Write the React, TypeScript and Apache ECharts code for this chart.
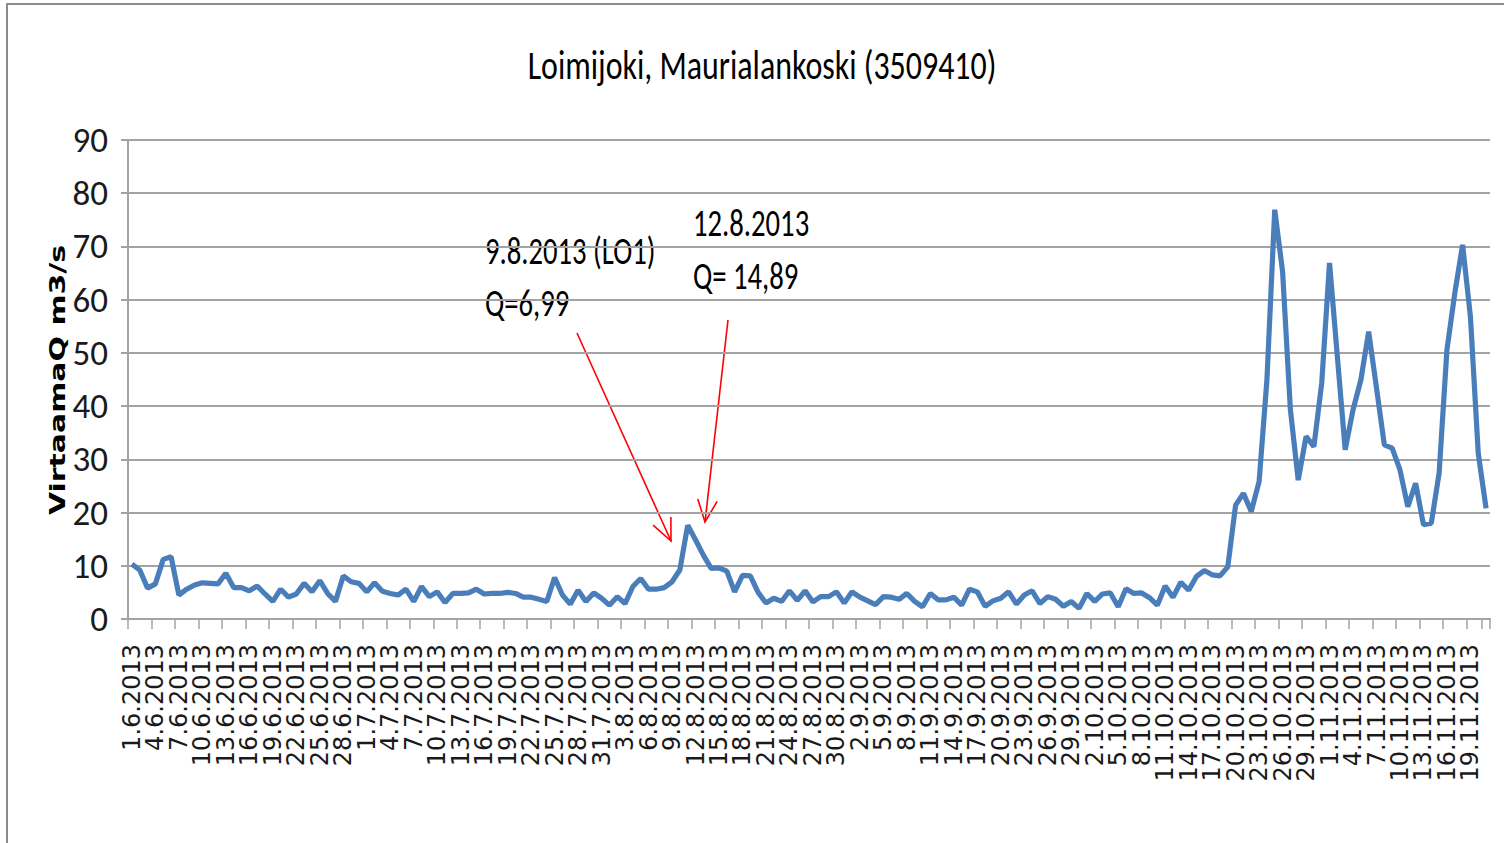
import React, { useEffect, useRef } from "react";
import * as echarts from "echarts";

const TITLE = "Loimijoki, Maurialankoski (3509410)";
const Y_NAME = "VirtaamaQ m3/s";

// Daily categories 1.6.2013 – 21.11.2013
const FIRST_DAY = [2013, 6, 1];
const DAY_COUNT = 174;
const categories: string[] = (() => {
  const out: string[] = [];
  const dt = new Date(Date.UTC(FIRST_DAY[0], FIRST_DAY[1] - 1, FIRST_DAY[2]));
  for (let i = 0; i < DAY_COUNT; i++) {
    out.push(`${dt.getUTCDate()}.${dt.getUTCMonth() + 1}.${dt.getUTCFullYear()}`);
    dt.setUTCDate(dt.getUTCDate() + 1);
  }
  return out;
})();
// Every third day is labelled on the axis
const LABEL_EVERY = 3;

// Discharge (m3/s)
const flow: number[] = [
  10.3, 9.2, 5.8, 6.6, 11.2, 11.7, 4.5, 5.6, 6.4, 6.8,
  6.7, 6.6, 8.6, 5.9, 5.9, 5.3, 6.2, 4.7, 3.3, 5.6,
  4.1, 4.7, 6.7, 5.1, 7.2, 4.8, 3.3, 8.1, 7.0, 6.7,
  5.1, 6.8, 5.2, 4.8, 4.5, 5.6, 3.3, 6.1, 4.2, 5.1,
  3.1, 4.8, 4.8, 4.9, 5.6, 4.7, 4.8, 4.8, 5.0, 4.8,
  4.1, 4.1, 3.7, 3.3, 7.8, 4.5, 2.8, 5.4, 3.3, 4.9,
  3.9, 2.6, 4.2, 2.9, 6.1, 7.6, 5.6, 5.6, 5.9, 6.99,
  9.2, 17.6, 14.89, 12.0, 9.5, 9.6, 9.0, 5.1, 8.2, 8.1,
  5.0, 3.0, 3.9, 3.3, 5.3, 3.5, 5.3, 3.2, 4.2, 4.2,
  5.1, 3.0, 5.1, 4.1, 3.4, 2.7, 4.2, 4.1, 3.7, 4.8,
  3.3, 2.3, 4.8, 3.6, 3.6, 4.1, 2.6, 5.6, 5.1, 2.4,
  3.4, 3.9, 5.1, 2.8, 4.5, 5.3, 2.9, 4.2, 3.7, 2.4,
  3.3, 2.0, 4.8, 3.3, 4.7, 4.9, 2.3, 5.7, 4.8, 4.9,
  4.0, 2.6, 6.2, 4.1, 6.9, 5.4, 8.0, 9.1, 8.3, 8.1,
  9.8, 21.4, 23.6, 20.2, 25.8, 44.9, 76.9, 65.3, 39.3, 26.1,
  34.3, 32.4, 44.3, 66.9, 49.3, 31.8, 39.3, 44.9, 54.0, 43.4,
  32.7, 32.1, 28.0, 21.1, 25.5, 17.7, 18.0, 27.4, 50.6, 61.2,
  70.3, 56.8, 31.1, 20.8,
];

const Y_MIN = 0;
const Y_MAX = 90;
const Y_STEP = 10;

const noteLeft = ["9.8.2013 (LO1)", "Q=6,99"];
const noteRight = ["12.8.2013", "Q= 14,89"];

const CALIBRI = "Carlito, Calibri, 'Liberation Sans', sans-serif";

function arrow(x1: number, y1: number, x2: number, y2: number): any[] {
  const dx = x2 - x1;
  const dy = y2 - y1;
  const len = Math.hypot(dx, dy);
  const ux = dx / len;
  const uy = dy / len;
  const head = 24;
  const ang = (24 * Math.PI) / 180;
  const rot = (a: number) => [
    -ux * Math.cos(a) + uy * Math.sin(a),
    -uy * Math.cos(a) - ux * Math.sin(a),
  ];
  const w1 = rot(ang);
  const w2 = rot(-ang);
  const st = { stroke: "#ff0000", lineWidth: 1.6, fill: "none" };
  return [
    { type: "line", shape: { x1, y1, x2, y2 }, style: st, silent: true },
    {
      type: "polyline",
      shape: {
        points: [
          [x2 + w1[0] * head, y2 + w1[1] * head],
          [x2, y2],
          [x2 + w2[0] * head, y2 + w2[1] * head],
        ],
      },
      style: st,
      silent: true,
    },
  ];
}

export default function App() {
  const ref = useRef<HTMLDivElement>(null);
  useEffect(() => {
    if (!ref.current) return;
    const chart = echarts.init(ref.current, undefined, { renderer: "svg" });
    const option: any = {
      animation: false,
      backgroundColor: "#ffffff",
      grid: { left: 128, right: 14, top: 140, bottom: 224, containLabel: false },
      xAxis: {
        type: "category",
        data: categories,
        boundaryGap: true,
        axisLine: { show: true, lineStyle: { color: "#a3a3a3", width: 2 } },
        axisTick: { show: true, interval: LABEL_EVERY - 1, length: 10, lineStyle: { color: "#a3a3a3", width: 1.5 } },
        axisLabel: {
          interval: 0,
          formatter: (value: string, index: number) => (index % LABEL_EVERY === 0 ? value : ""),
          rotate: 90,
          margin: 25,
          fontSize: 24,
          fontFamily: "'DejaVu Sans', Verdana, sans-serif",
          color: "#1a1a1a",
        },
        splitLine: { show: false },
      },
      yAxis: {
        type: "value",
        min: Y_MIN,
        max: Y_MAX,
        interval: Y_STEP,
        axisLine: { show: true, lineStyle: { color: "#a3a3a3", width: 2 } },
        axisTick: { show: true, length: 7, lineStyle: { color: "#a3a3a3", width: 2 } },
        axisLabel: {
          margin: 20,
          fontSize: 35,
          fontFamily: CALIBRI,
          color: "#1a1a1a",
        },
        splitLine: { show: true, lineStyle: { color: "#a3a3a3", width: 2 } },
      },
      series: [
        {
          type: "line",
          data: flow,
          symbol: "none",
          smooth: false,
          lineStyle: { color: "#4a7ebb", width: 5.2 },
          itemStyle: { color: "#4a7ebb" },
        },
      ],
      graphic: [
        {
          type: "rect",
          shape: { x: 7, y: 4, width: 1700, height: 1000 },
          style: { fill: "none", stroke: "#8c8c8c", lineWidth: 2 },
          silent: true,
          z: 100,
        },
        {
          type: "text",
          x: 762,
          y: 64,
          scaleX: 0.76,
          style: {
            text: TITLE,
            fontSize: 42,
            fontFamily: CALIBRI,
            fill: "#000",
            align: "center",
            verticalAlign: "middle",
            textAlign: "center",
            textVerticalAlign: "middle",
          },
        },
        {
          type: "text",
          x: 57,
          y: 380,
          rotation: Math.PI / 2,
          scaleX: 1.36,
          style: {
            text: Y_NAME,
            fontSize: 22,
            fontWeight: "bold",
            fontFamily: "'DejaVu Sans', Verdana, sans-serif",
            fill: "#000",
            align: "center",
            verticalAlign: "middle",
            textAlign: "center",
            textVerticalAlign: "middle",
          },
        },
        ...[
          { t: noteLeft[0], x: 485, y: 250 },
          { t: noteLeft[1], x: 485, y: 302 },
          { t: noteRight[0], x: 693, y: 222 },
          { t: noteRight[1], x: 693, y: 275 },
        ].map((n) => ({
          type: "text",
          x: n.x,
          y: n.y,
          scaleX: 0.735,
          style: {
            text: n.t,
            fontSize: 39,
            fontFamily: CALIBRI,
            fill: "#000",
            align: "left",
            verticalAlign: "middle",
            textAlign: "left",
            textVerticalAlign: "middle",
          },
        })),
        ...arrow(577, 333, 671, 541),
        ...arrow(728, 320, 705, 522),
      ],
    };
    chart.setOption(option);
    return () => chart.dispose();
  }, []);
  return (
    <div
      ref={ref}
      style={{ position: "fixed", left: 0, top: 0, width: 1504, height: 843, background: "#fff" }}
    />
  );
}
